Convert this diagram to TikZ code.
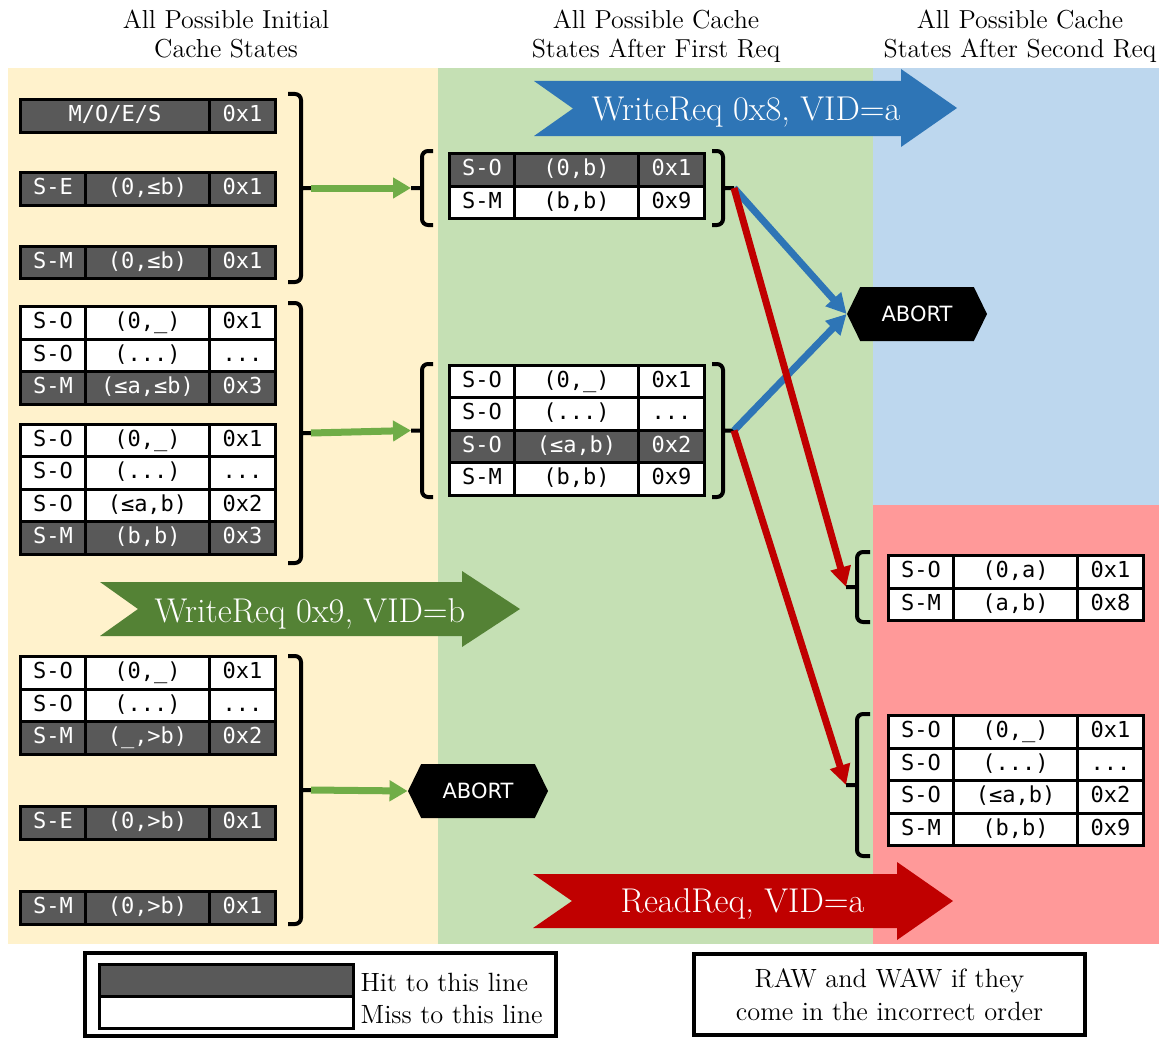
\documentclass[tikz,border=0pt]{standalone}
\usepackage{fontspec}
\setsansfont{DejaVu Sans}
\setmonofont{DejaVu Sans Mono}
\usepackage{xcolor}
\usepackage{tikz}
\usetikzlibrary{positioning,arrows.meta,shapes.symbols}

\definecolor{initbg}{HTML}{FFF2CC}
\definecolor{firstbg}{HTML}{C5E0B4}
\definecolor{abortbg}{HTML}{BDD7EE}
\definecolor{racebg}{HTML}{FF9999}
\definecolor{hitgray}{HTML}{595959}
\definecolor{stepgreen}{HTML}{70AD47}
\definecolor{reqgreen}{HTML}{548235}
\definecolor{reqblue}{HTML}{2E75B6}
\definecolor{reqred}{HTML}{C00000}

% one line of a cache: state, range, value
\newcommand{\cacherow}[6]{%
  \node[cell,#3,minimum width=32.5pt,anchor=west] (#1s) at (#2) {#4};
  \node[cell,#3,minimum width=62pt,right=0pt of #1s] (#1r) {#5};
  \node[cell,#3,minimum width=33pt,right=0pt of #1r] (#1v) {#6};
}

\begin{document}
\begin{tikzpicture}[x=0.5pt,y=-0.5pt,
    cell/.style={draw,line width=1.5pt,outer sep=0pt,inner sep=0pt,minimum height=16.25pt,
      text height=8pt,text depth=2.5pt,font=\ttfamily\fontsize{11}{13}\selectfont},
    hit/.style={fill=hitgray,text=white},
    miss/.style={fill=white},
    grpbracket/.style={line width=2pt,rounded corners=3pt},
    stepline/.style={stepgreen,line width=3.5pt,-{Triangle[length=9pt,width=10pt]}},
    abortline/.style={reqblue,line width=3.5pt,-{Triangle[length=10pt,width=10pt]}},
    raceline/.style={reqred,line width=3.5pt,-{Triangle[length=10pt,width=10pt]}},
    abortbox/.style={signal,signal to=west and east,signal pointer angle=128,fill=black,text=white,
      minimum width=70pt,minimum height=27pt,inner sep=2pt,font=\sffamily\fontsize{10.5}{12}\selectfont},
    reqlabel/.style={text=white,inner sep=0pt,font=\fontsize{17.2}{20}\selectfont},
    header/.style={anchor=north,inner sep=0pt,align=center,font=\fontsize{13}{14.5}\selectfont},
    legendtext/.style={font=\fontsize{13.2}{16.5}\selectfont}]
  \useasboundingbox (0,0) rectangle (1171,1038);

  % columns
  \fill[initbg] (8,68) rectangle (438,944);
  \fill[firstbg] (438,68) rectangle (873,944);
  \fill[abortbg] (873,68) rectangle (1159,505);
  \fill[racebg] (873,505) rectangle (1159,944);

  \node[header] (hinit) at (226,10) {All Possible Initial\\Cache States};
  \node[header] (hfirst) at (656,10) {All Possible Cache\\States After First Req};
  \node[header] (hsecond) at (1020,10) {All Possible Cache\\States After Second Req};

  % requests
  \fill[reqblue] (534,81) -- (901,81) -- (901,69) -- (957,108) -- (901,147) -- (901,136)
    -- (534,136) -- (573,108.5) -- cycle;
  \node[reqlabel] (wr8) at (746,112) {WriteReq 0x8, VID=a};
  \fill[reqgreen] (100,582) -- (462,582) -- (462,571) -- (520,609) -- (462,647) -- (462,636)
    -- (100,636) -- (138,609) -- cycle;
  \node[reqlabel] (wr9) at (310,613.5) {WriteReq 0x9, VID=b};
  \fill[reqred] (533,874) -- (897,874) -- (897,862) -- (953,901) -- (897,940) -- (897,928)
    -- (533,928) -- (572,901) -- cycle;
  \node[reqlabel] (rd) at (742.5,904.3) {ReadReq, VID=a};

  % initial states
  \node[cell,hit,minimum width=94.5pt,anchor=west] (i1r) at (20.5,116) {M/O/E/S};
  \node[cell,hit,minimum width=33pt,right=0pt of i1r] (i1v) {0x1};
  \cacherow{i2}{20.5,189}{hit}{S-E}{(0,≤b)}{0x1}
  \cacherow{i3}{20.5,262.5}{hit}{S-M}{(0,≤b)}{0x1}

  \cacherow{ia1}{20.5,323}{miss}{S-O}{(0,\_)}{0x1}
  \cacherow{ia2}{20.5,355.5}{miss}{S-O}{(...)}{...}
  \cacherow{ia3}{20.5,388}{hit}{S-M}{(≤a,≤b)}{0x3}
  \cacherow{ib1}{20.5,440.5}{miss}{S-O}{(0,\_)}{0x1}
  \cacherow{ib2}{20.5,473}{miss}{S-O}{(...)}{...}
  \cacherow{ib3}{20.5,505.5}{miss}{S-O}{(≤a,b)}{0x2}
  \cacherow{ib4}{20.5,538}{hit}{S-M}{(b,b)}{0x3}

  \cacherow{ic1}{20.5,673}{miss}{S-O}{(0,\_)}{0x1}
  \cacherow{ic2}{20.5,705.5}{miss}{S-O}{(...)}{...}
  \cacherow{ic3}{20.5,738}{hit}{S-M}{(\_,>b)}{0x2}
  \cacherow{id1}{20.5,823}{hit}{S-E}{(0,>b)}{0x1}
  \cacherow{ie1}{20.5,908}{hit}{S-M}{(0,>b)}{0x1}

  % after first request
  \cacherow{f1}{449.5,170}{hit}{S-O}{(0,b)}{0x1}
  \cacherow{f2}{449.5,202.5}{miss}{S-M}{(b,b)}{0x9}

  \cacherow{g1}{449.5,381.5}{miss}{S-O}{(0,\_)}{0x1}
  \cacherow{g2}{449.5,414}{miss}{S-O}{(...)}{...}
  \cacherow{g3}{449.5,446.5}{hit}{S-O}{(≤a,b)}{0x2}
  \cacherow{g4}{449.5,479}{miss}{S-M}{(b,b)}{0x9}

  % after second request
  \cacherow{h1}{888.5,572}{miss}{S-O}{(0,a)}{0x1}
  \cacherow{h2}{888.5,604.5}{miss}{S-M}{(a,b)}{0x8}

  \cacherow{k1}{888.5,732}{miss}{S-O}{(0,\_)}{0x1}
  \cacherow{k2}{888.5,764.5}{miss}{S-O}{(...)}{...}
  \cacherow{k3}{888.5,797}{miss}{S-O}{(≤a,b)}{0x2}
  \cacherow{k4}{888.5,829.5}{miss}{S-M}{(b,b)}{0x9}

  % brackets round the groups
  \coordinate (init1) at (311,188);
  \coordinate (init2) at (311,433);
  \coordinate (init3) at (311,790);
  \coordinate (first1in) at (411,188);
  \coordinate (first2in) at (411,430.5);
  \coordinate (first1out) at (734,188);
  \coordinate (first2out) at (734,430.5);
  \coordinate (second1) at (846,587);
  \coordinate (second2) at (846,785);

  \draw[grpbracket] (288,94) -- (301,94) -- (301,282) -- (288,282) (301,188) -- (init1);
  \draw[grpbracket] (288,303) -- (301,303) -- (301,563) -- (288,563) (301,433) -- (init2);
  \draw[grpbracket] (288,656) -- (301,656) -- (301,924) -- (288,924) (301,790) -- (init3);
  \draw[grpbracket] (433,151) -- (422,151) -- (422,225) -- (433,225) (422,188) -- (first1in);
  \draw[grpbracket] (433,364) -- (422,364) -- (422,497) -- (433,497) (422,430.5) -- (first2in);
  \draw[grpbracket] (712,151) -- (723,151) -- (723,225) -- (712,225) (723,188) -- (first1out);
  \draw[grpbracket] (712,364) -- (723,364) -- (723,497) -- (712,497) (723,430.5) -- (first2out);
  \draw[grpbracket] (870,552) -- (857,552) -- (857,622) -- (870,622) (857,587) -- (second1);
  \draw[grpbracket] (870,714) -- (857,714) -- (857,856) -- (870,856) (857,785) -- (second2);

  \node[abortbox] (abort1) at (917,314) {ABORT};
  \node[abortbox] (abort2) at (478,791) {ABORT};

  \draw[stepline] (init1) -- (first1in);
  \draw[stepline] (init2) -- (first2in);
  \draw[stepline] (init3) -- (abort2.west);
  \draw[abortline] (first1out) -- (abort1.west);
  \draw[abortline] (first2out) -- (abort1.west);
  \draw[raceline] (first1out) -- (second1);
  \draw[raceline] (first2out) -- (second2);

  % legend
  \node[draw,line width=2pt,minimum width=235.5pt,minimum height=41.5pt,inner sep=0pt] (legend) at (320,994.5) {};
  \node[cell,hit,minimum width=127pt,minimum height=16pt] (hitbar) at (226.5,980) {};
  \node[cell,miss,minimum width=127pt,minimum height=16pt,below=0pt of hitbar] (missbar) {};
  \node[legendtext,right=0pt of hitbar,yshift=-1pt] (hittext) {Hit to this line};
  \node[legendtext,right=0pt of missbar,yshift=-1pt] (misstext) {Miss to this line};
  \node[draw,line width=2pt,minimum width=195.5pt,minimum height=40.5pt,align=center,legendtext] (rawbox)
    at (889.5,994.5) {RAW and WAW if they\\come in the incorrect order};
\end{tikzpicture}
\end{document}
